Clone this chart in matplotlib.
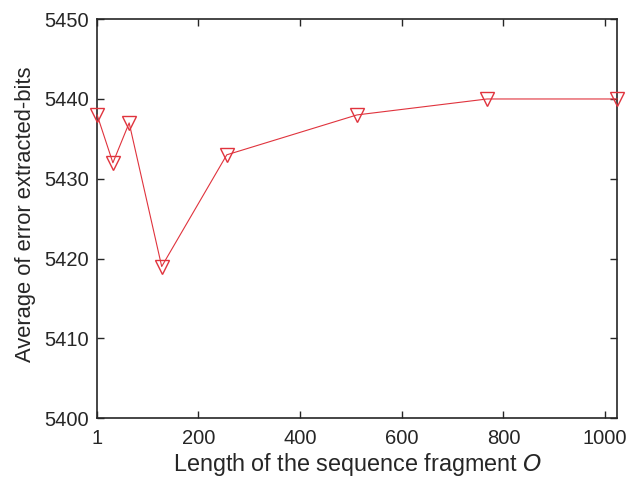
import matplotlib
matplotlib.use("Agg")
import matplotlib.pyplot as plt

# Fragment lengths and mean number of wrongly extracted bits
fragment_length = [1, 32, 64, 128, 256, 512, 768, 1024]
avg_error_bits = [5438, 5432, 5437, 5419, 5433, 5438, 5440, 5440]
x_ticks = [1, 200, 400, 600, 800, 1000]
y_ticks = [5400, 5410, 5420, 5430, 5440, 5450]

plt.rcParams["font.family"] = ["Liberation Sans", "DejaVu Sans"]

fig = plt.figure(figsize=(6.39, 4.80), dpi=100)
ax = fig.add_axes([0.152, 0.129, 0.814, 0.831])

ax.plot(fragment_length, avg_error_bits, color="#e0333d", linewidth=0.8,
        marker="v", markersize=10, markerfacecolor="none",
        markeredgecolor="#e0333d", markeredgewidth=1.0, clip_on=False, zorder=3)

ax.set_xlim(1, 1024)
ax.set_ylim(5400, 5450)
ax.set_xticks(x_ticks)
ax.set_yticks(y_ticks)
ax.tick_params(direction="in", top=True, right=True, length=5, width=1.0,
               labelsize=14.5, colors="#262626")
ax.tick_params(axis="x", pad=8)
ax.tick_params(axis="y", pad=6)
for s in ax.spines.values():
    s.set_linewidth(1.2)
    s.set_color("#262626")

ax.set_xlabel("Length of the sequence fragment $O$", fontsize=16.8, color="#262626", labelpad=2)
ax.set_ylabel("Average of error extracted-bits", fontsize=15.8, color="#262626")
ax.yaxis.set_label_coords(-0.117, 0.512)

fig.savefig("out.png", dpi=100)
